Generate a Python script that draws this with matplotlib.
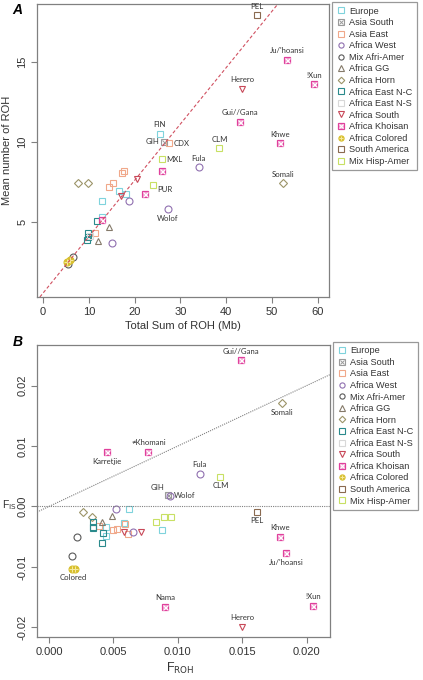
import matplotlib
matplotlib.use("Agg")
import matplotlib.pyplot as plt
from matplotlib.lines import Line2D

plt.rcParams["font.family"] = ["Liberation Sans", "DejaVu Sans"]
plt.rcParams["axes.unicode_minus"] = False

groups = ["Europe", "Asia South", "Asia East", "Africa West", "Mix Afri-Amer",
          "Africa GG", "Africa Horn", "Africa East N-C", "Africa East N-S",
          "Africa South", "Africa Khoisan", "Africa Colored", "South America",
          "Mix Hisp-Amer"]

# ---- panel A: total sum of ROH (Mb) vs mean number of ROH ----
a_unlab_x = {
    "Europe": [16.6, 18.1, 12.8, 12.9],
    "Asia East": [17.2, 17.7, 14.4, 15.3, 11.4],
    "Africa West": [18.8, 15.1],
    "Mix Afri-Amer": [6.5, 5.5],
    "Africa GG": [14.4, 12.0],
    "Africa Horn": [7.6, 9.8],
    "Africa East N-C": [11.8, 9.8, 9.8, 9.7],
    "Africa East N-S": [10.3],
    "Africa South": [20.5, 17.0],
    "Africa Khoisan": [26.0, 22.3, 12.9],
    "Africa Colored": [5.2, 5.9],
}
a_unlab_y = {
    "Europe": [6.9, 6.75, 6.3, 5.3],
    "Asia East": [8.05, 8.2, 7.2, 7.4, 4.3],
    "Africa West": [6.3, 3.7],
    "Mix Afri-Amer": [2.8, 2.4],
    "Africa GG": [4.7, 3.8],
    "Africa Horn": [7.45, 7.45],
    "Africa East N-C": [5.05, 4.3, 4.05, 3.85],
    "Africa East N-S": [4.1],
    "Africa South": [7.7, 6.6],
    "Africa Khoisan": [8.2, 6.75, 5.1],
    "Africa Colored": [2.5, 2.6],
}
a_names = ["FIN", "GIH", "CDX", "MXL", "Fula", "CLM", "Gui//Gana", "Herero", "PEL",
           "Ju/'hoansi", "!Xun", "Khwe", "Somali", "PUR", "Wolof"]
a_groups = ["Europe", "Asia South", "Asia East", "Mix Hisp-Amer", "Africa West",
            "Mix Hisp-Amer", "Africa Khoisan", "Africa South", "South America",
            "Africa Khoisan", "Africa Khoisan", "Africa Khoisan", "Africa Horn",
            "Mix Hisp-Amer", "Africa West"]
a_x = [25.5, 26.4, 27.5, 26.0, 34.0, 38.5, 43.0, 43.4, 46.7, 53.3, 59.2, 51.7, 52.4, 24.1, 27.2]
a_y = [10.5, 10.0, 9.9, 8.9, 8.4, 9.6, 11.25, 13.3, 17.9, 15.1, 13.6, 9.9, 7.4, 7.3, 5.8]
a_side = ["above", "left", "right", "right", "above", "above", "above", "above", "above",
          "above", "above", "above", "above", "rightlow", "below"]
a_slope, a_intercept = 0.352, 0.55

# ---- panel B: F_ROH vs F_IS ----
b_unlab_x = {
    "Europe": [0.0044, 0.0044, 0.0058, 0.0062, 0.0088],
    "Asia East": [0.0039, 0.0050, 0.0053, 0.0059, 0.0061],
    "Africa West": [0.0052, 0.0065],
    "Mix Afri-Amer": [0.0018, 0.0022],
    "Africa GG": [0.0041, 0.0049],
    "Africa Horn": [0.0026, 0.0033],
    "Africa East N-C": [0.0034, 0.0034, 0.0034, 0.0042, 0.0041],
    "Africa South": [0.0058, 0.0071],
    "Africa Colored": [0.0018, 0.0020],
    "Mix Hisp-Amer": [0.0083, 0.0089, 0.0095],
}
b_unlab_y = {
    "Europe": [-0.0034, -0.0049, -0.0028, -0.0004, -0.0039],
    "Asia East": [-0.0032, -0.0039, -0.0038, -0.0029, -0.0045],
    "Africa West": [-0.0004, -0.0042],
    "Mix Afri-Amer": [-0.0082, -0.0051],
    "Africa GG": [-0.0025, -0.0016],
    "Africa Horn": [-0.0009, -0.0017],
    "Africa East N-C": [-0.0026, -0.0034, -0.0035, -0.0044, -0.0061],
    "Africa South": [-0.0042, -0.0042],
    "Africa Colored": [-0.0103, -0.0103],
    "Mix Hisp-Amer": [-0.0026, -0.0017, -0.0018],
}
b_names = ["Gui//Gana", "Somali", "Karretjie", "\u2260Khomani", "Fula", "CLM", "GIH",
           "Wolof", "PEL", "Khwe", "Ju/'hoansi", "!Xun", "Herero", "Nama"]
b_groups = ["Africa Khoisan", "Africa Horn", "Africa Khoisan", "Africa Khoisan",
            "Africa West", "Mix Hisp-Amer", "Asia South", "Africa West", "South America",
            "Africa Khoisan", "Africa Khoisan", "Africa Khoisan", "Africa South",
            "Africa Khoisan"]
b_x = [0.0149, 0.0181, 0.0045, 0.0077, 0.0117, 0.0133, 0.0092, 0.0094, 0.0161,
       0.0179, 0.0184, 0.0205, 0.0150, 0.0090]
b_y = [0.0242, 0.0171, 0.0090, 0.0090, 0.0054, 0.0049, 0.0019, 0.0018, -0.0009,
       -0.0050, -0.0077, -0.0164, -0.0199, -0.0166]
b_side = ["above", "below", "below", "above", "above", "below", "aboveleft", "right",
          "below", "above", "below", "above", "above", "above"]
colored_label = ("Colored", 0.0019, -0.0103)

# marker styles per group
style = {
    "Europe": ("s", "#7fd3dc"),
    "Asia South": ("sx", "#9a9a9a"),
    "Asia East": ("s", "#f0a88a"),
    "Africa West": ("o", "#9070b0"),
    "Mix Afri-Amer": ("o", "#5a5a5a"),
    "Africa GG": ("^", "#857a6a"),
    "Africa Horn": ("D", "#9c9468"),
    "Africa East N-C": ("s", "#2a8a8c"),
    "Africa East N-S": ("s", "#d8d8d8"),
    "Africa South": ("v", "#c84858"),
    "Africa Khoisan": ("sxf", "#e0409c"),
    "Africa Colored": ("o+", "#d8c030"),
    "South America": ("s", "#8a6a50"),
    "Mix Hisp-Amer": ("s", "#c8e064"),
}


def marker_kw(group):
    m, c = style[group]
    ms = 4.4 if m == "D" else 5.0
    if m == "sxf":
        return [dict(marker="s", ms=5.0, mfc="#f3a6d4", mec=c, mew=0.9),
                dict(marker="x", ms=3.6, mec="white", mew=0.8)]
    if m == "sx":
        return [dict(marker="s", ms=5.0, mfc="none", mec=c, mew=0.8),
                dict(marker="x", ms=3.6, mec=c, mew=0.7)]
    if m == "o+":
        return [dict(marker="o", ms=5.0, mfc=c, mec=c, mew=0.8),
                dict(marker="+", ms=4.4, mec="#f6eaa0", mew=0.7)]
    return [dict(marker=m, ms=ms, mfc="none", mec=c, mew=0.8)]


def draw(ax, x, y, group):
    for kw in marker_kw(group):
        ax.plot(x, y, ls="none", **kw)


offsets = {
    "above": ((0, 4), "center", "bottom"),
    "below": ((0, -4), "center", "top"),
    "left": ((-3, 0), "right", "center"),
    "right": ((3, 0), "left", "center"),
    "rightlow": ((3, -3), "left", "center"),
    "aboveleft": ((-2, 3), "right", "bottom"),
}


def label(ax, name, x, y, side):
    off, ha, va = offsets[side]
    ax.annotate(name, (x, y), xytext=off, textcoords="offset points", ha=ha, va=va,
                fontsize=5.6, family=["Lato", "DejaVu Sans"], color="#333333")


def style_axes(ax):
    for s in ax.spines.values():
        s.set_color("#808080")
        s.set_linewidth(0.9)
    ax.tick_params(direction="out", length=4, width=0.8, color="#808080",
                   labelsize=8, labelcolor="#333333", pad=3)
    for t in ax.get_yticklabels():
        t.set_rotation(90)
        t.set_va("center")


def legend(ax, top):
    handles = []
    for g in groups:
        hs = tuple(Line2D([], [], ls="none", **kw) for kw in marker_kw(g))
        handles.append(hs if len(hs) > 1 else hs[0])
    leg = ax.legend(handles, groups, loc="upper left", bbox_to_anchor=(1.012, top),
                    frameon=True, fancybox=False, fontsize=6.6, labelspacing=0.28,
                    handlelength=1.0, handletextpad=0.4, borderpad=0.45,
                    borderaxespad=0, markerscale=0.75)
    leg.get_frame().set_edgecolor("#808080")
    leg.get_frame().set_linewidth(0.9)
    for t in leg.get_texts():
        t.set_color("#333333")


fig = plt.figure(figsize=(4.23, 6.8), dpi=100)

# ================= Panel A =================
axA = fig.add_axes([0.0875, 0.5632, 0.690, 0.431])
for g in a_unlab_x:
    draw(axA, a_unlab_x[g], a_unlab_y[g], g)
for n, g, x, y, s in zip(a_names, a_groups, a_x, a_y, a_side):
    draw(axA, x, y, g)
    label(axA, n, x, y, s)
axA.axline((0, a_intercept), slope=a_slope, color="#d05060", ls=(0, (3, 2)), lw=0.8)
axA.set_xlim(-1.3, 62.4)
axA.set_ylim(0.31, 18.6)
axA.set_xticks([0, 10, 20, 30, 40, 50, 60])
axA.set_yticks([5, 10, 15])
axA.set_xlabel("Total Sum of ROH (Mb)", fontsize=8, color="#333333", labelpad=3)
axA.set_ylabel("Mean number of ROH", fontsize=8, color="#333333", labelpad=4)
style_axes(axA)
legend(axA, 1.005)
fig.text(0.03, 0.985, "A", fontsize=10, fontweight="bold", style="italic", va="center")

# ================= Panel B =================
axB = fig.add_axes([0.0875, 0.0632, 0.692, 0.4294])
for g in b_unlab_x:
    draw(axB, b_unlab_x[g], b_unlab_y[g], g)
for n, g, x, y, s in zip(b_names, b_groups, b_x, b_y, b_side):
    draw(axB, x, y, g)
    label(axB, n, x, y, s)
label(axB, colored_label[0], colored_label[1], colored_label[2], "below")
axB.axline((0, 0), slope=1.0, color="#808080", ls=(0, (1, 1)), lw=0.8)
axB.axhline(0, color="#808080", ls=(0, (1, 1)), lw=0.8)
axB.set_xlim(-0.00093, 0.02178)
axB.set_ylim(-0.0216, 0.0267)
axB.set_xticks([0.0, 0.005, 0.01, 0.015, 0.02])
axB.set_xticklabels(["0.000", "0.005", "0.010", "0.015", "0.020"])
axB.set_yticks([-0.02, -0.01, 0.0, 0.01, 0.02])
axB.set_yticklabels(["-0.02", "-0.01", "0.00", "0.01", "0.02"])
style_axes(axB)
legend(axB, 1.01)
fig.text(0.03, 0.497, "B", fontsize=10, fontweight="bold", style="italic", va="center")
fig.text(2 / 423, 1 - 505 / 680, r"F$_{\rm IS}$", fontsize=7.5, color="#333333", va="center")
fig.text(180 / 423, 1 - 668 / 680, r"F$_{\rm ROH}$", fontsize=9, color="#333333",
         ha="center", va="center")

fig.savefig("out.png", dpi=100)
